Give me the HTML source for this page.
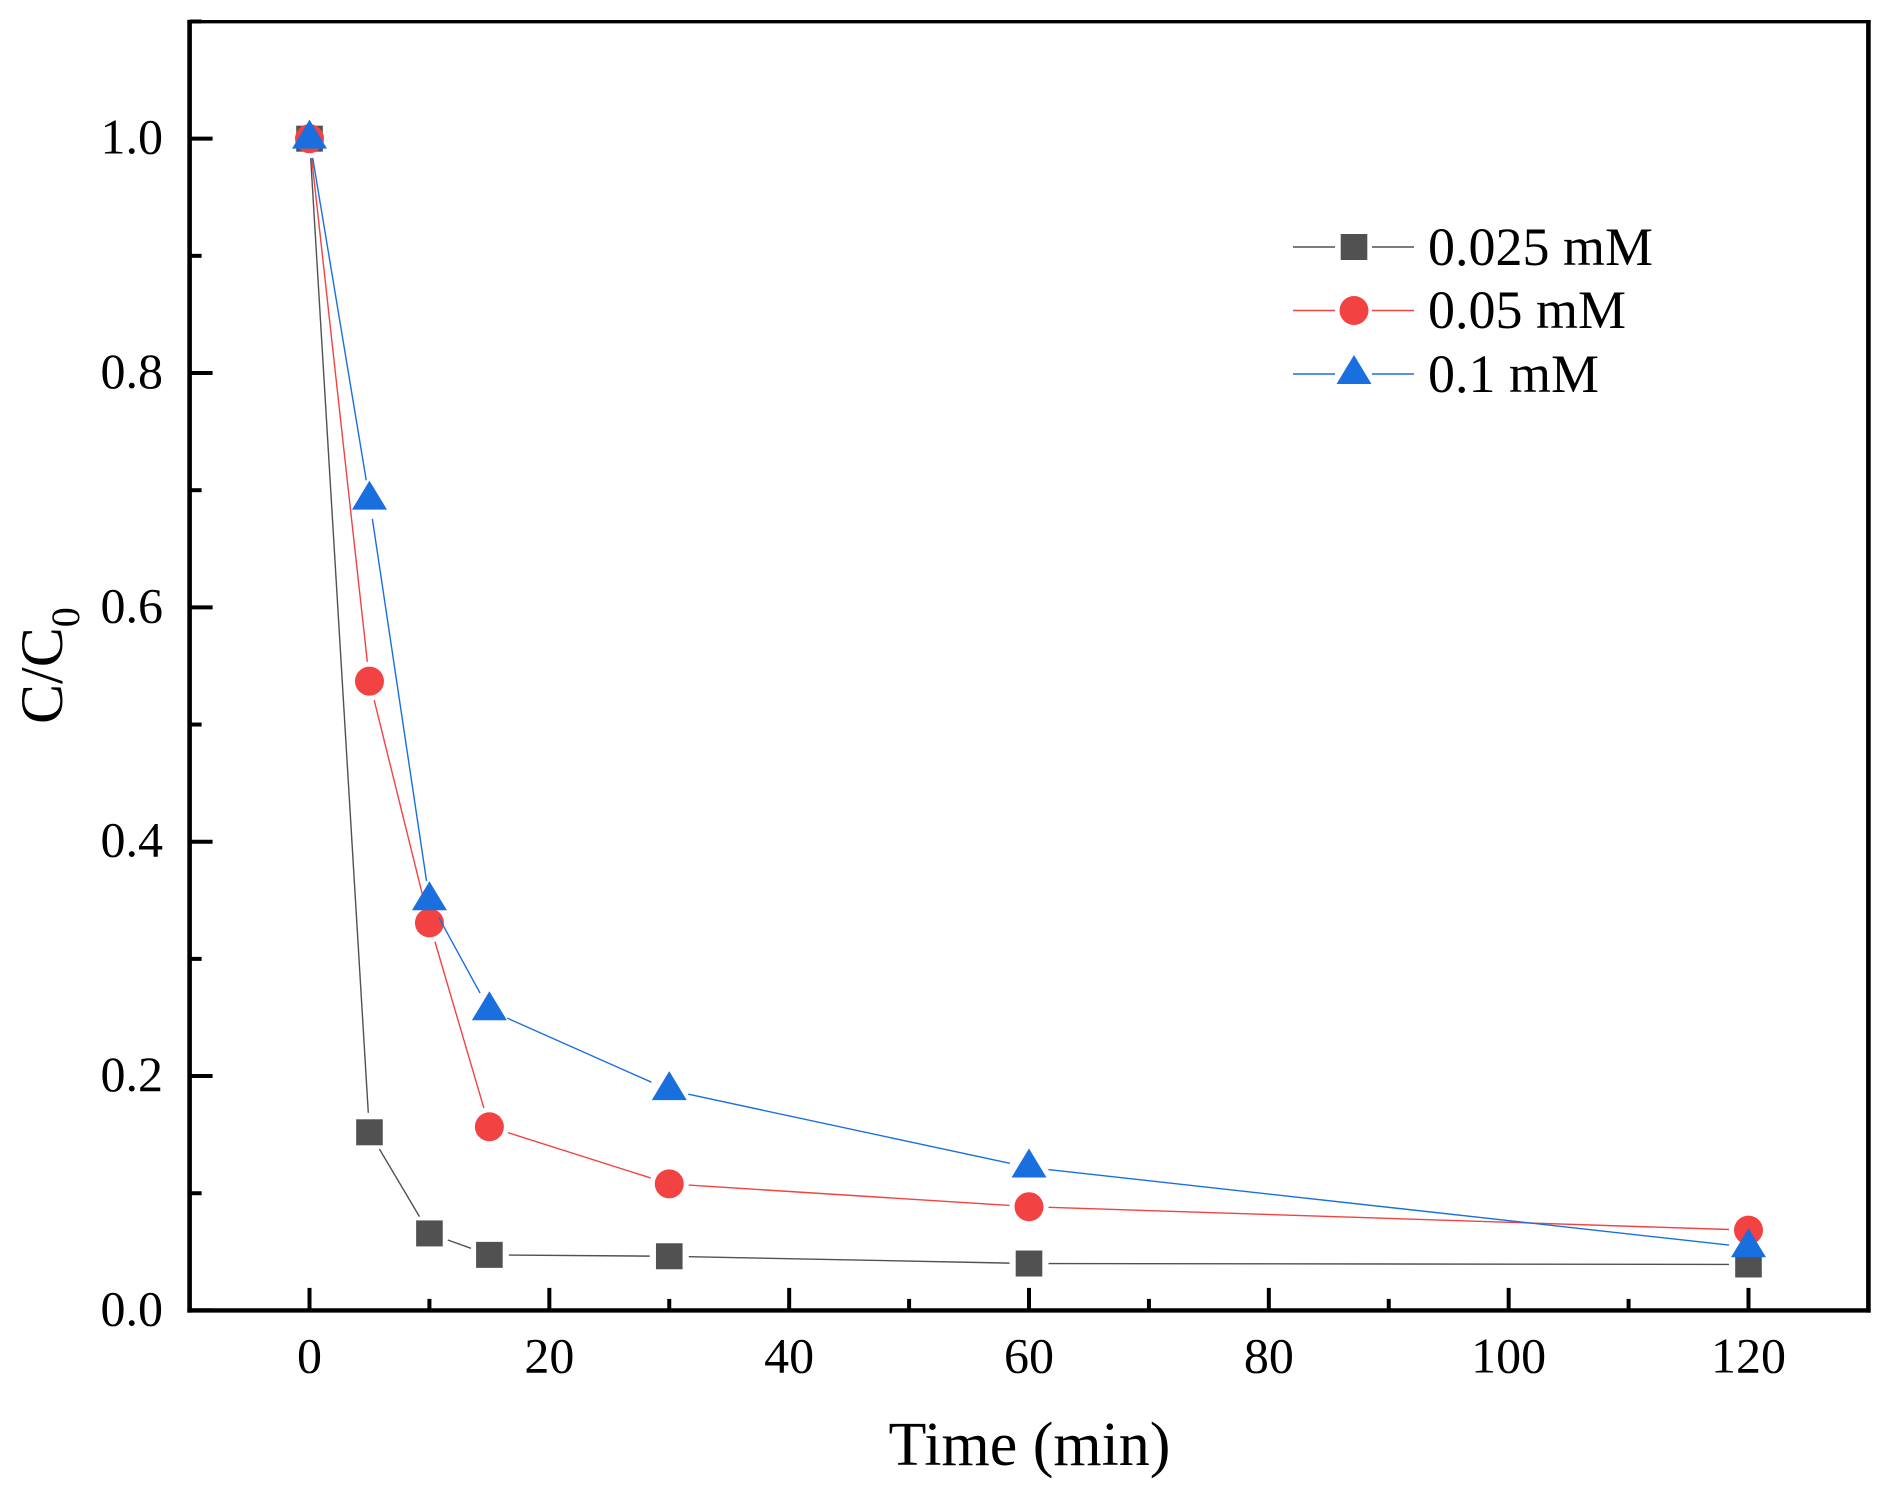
<!DOCTYPE html>
<html lang="en">
<head>
<meta charset="utf-8">
<title>C/C0 vs Time</title>
<style>
html,body{margin:0;padding:0;background:#fff;width:1892px;height:1494px;overflow:hidden}
svg{display:block}
text{font-family:"Liberation Serif","Times New Roman",serif;fill:#000}
</style>
</head>
<body>
<svg id="chart" xmlns="http://www.w3.org/2000/svg" width="1892" height="1494" viewBox="0 0 1892 1494">
  <rect x="0" y="0" width="1892" height="1494" fill="#fff"/>
  <g id="axes"></g>
  <g id="series"></g>
  <g id="legend"></g>
  <text x="1029.5" y="1465" font-size="62" text-anchor="middle">Time (min)</text>
  <text transform="translate(62,724) rotate(-90)" font-size="60">C/C<tspan font-size="40" dy="17">0</tspan></text>
</svg>
<script>
var times = [0, 5, 10, 15, 30, 60, 120];
var valuesLow = [1.0, 0.152, 0.0657, 0.0474, 0.0462, 0.040, 0.0392];
var valuesMid = [1.0, 0.537, 0.3307, 0.1567, 0.108, 0.0885, 0.0685];
var valuesHigh = [1.0, 0.692, 0.35, 0.2562, 0.188, 0.122, 0.0539];
var seriesNames = ['0.025 mM', '0.05 mM', '0.1 mM'];
var xMajorTicks = [0, 20, 40, 60, 80, 100, 120];
var xMinorTicks = [10, 30, 50, 70, 90, 110];
var yMajorTicks = [0, 0.2, 0.4, 0.6, 0.8, 1.0];
var yMinorTicks = [0.1, 0.3, 0.5, 0.7, 0.9, 1.1];
var yTickLabels = ['0.0', '0.2', '0.4', '0.6', '0.8', '1.0'];

var NS = 'http://www.w3.org/2000/svg';
var xMin = -10, xMax = 130, yMin = 0, yMax = 1.1;
var plotLeft = 189.6, plotRight = 1868.4, plotBottom = 1310.4, plotTop = 21.5;
function xScale(v) { return plotLeft + (v - xMin) / (xMax - xMin) * (plotRight - plotLeft); }
function yScale(v) { return plotBottom - (v - yMin) / (yMax - yMin) * (plotBottom - plotTop); }

function make(tag, attrs, parent) {
  var el = document.createElementNS(NS, tag);
  for (var k in attrs) { el.setAttribute(k, attrs[k]); }
  parent.appendChild(el);
  return el;
}

var axes = document.getElementById('axes');

// frame
var axisLeft = make('line', {x1: plotLeft, x2: plotLeft, y1: plotTop - 1.6, y2: plotBottom + 2.2, stroke: '#000', 'stroke-width': 4.6}, axes);


var axisBottom = make('line', {x1: plotLeft - 2.2, x2: plotRight + 2.2, y1: plotBottom, y2: plotBottom, stroke: '#000', 'stroke-width': 4.4}, axes);


var axisTop = make('line', {x1: plotLeft - 2.2, x2: plotRight + 2.2, y1: plotTop + 0.2, y2: plotTop + 0.2, stroke: '#000', 'stroke-width': 3.4}, axes);


var axisRight = make('line', {x1: plotRight, x2: plotRight, y1: plotTop - 1.5, y2: plotBottom + 2.2, stroke: '#000', 'stroke-width': 4.6}, axes);



// x ticks
xMajorTicks.forEach(function (v) {
  var t = make('line', {x1: xScale(v), x2: xScale(v), y1: plotBottom, y2: plotBottom - 22.5, stroke: '#000', 'stroke-width': 4}, axes);
  
  
  var l = make('text', {x: xScale(v), y: 1372.5, 'font-size': 50, 'text-anchor': 'middle'}, axes);
  
  
  l.textContent = String(v);
});
xMinorTicks.forEach(function (v) {
  var t = make('line', {x1: xScale(v), x2: xScale(v), y1: plotBottom, y2: plotBottom - 11.5, stroke: '#000', 'stroke-width': 4}, axes);
  
  
});

// y ticks
yMajorTicks.forEach(function (v, i) {
  var t = make('line', {x1: plotLeft, x2: plotLeft + 23, y1: yScale(v), y2: yScale(v), stroke: '#000', 'stroke-width': 4}, axes);
  
  
  var l = make('text', {x: 163, y: yScale(v) + 15, 'font-size': 50, 'text-anchor': 'end'}, axes);
  
  
  l.textContent = yTickLabels[i];
});
yMinorTicks.forEach(function (v) {
  var t = make('line', {x1: plotLeft, x2: plotLeft + 12, y1: yScale(v), y2: yScale(v), stroke: '#000', 'stroke-width': 4}, axes);
  
  
});

function drawMarker(kind, cx, cy, color, parent) {
  var m;
  if (kind === 'square') {
    m = make('rect', {x: cx - 13.3, y: cy - 13, width: 26.6, height: 26, fill: color}, parent);
  } else if (kind === 'circle') {
    m = make('circle', {cx: cx, cy: cy, r: 14.5, fill: color}, parent);
  } else {
    m = make('polygon', {points: (cx) + ',' + (cy - 19) + ' ' + (cx + 17.5) + ',' + (cy + 10) + ' ' + (cx - 17.5) + ',' + (cy + 10), fill: color}, parent);
  }
  return m;
}

var gap = 19.5;
function drawSeries(name, values, color, kind) {
  var g = make('g', {}, document.getElementById('series'));
  
  
  for (var i = 0; i < values.length - 1; i++) {
    var x1 = xScale(times[i]), y1 = yScale(values[i]);
    var x2 = xScale(times[i + 1]), y2 = yScale(values[i + 1]);
    var dx = x2 - x1, dy = y2 - y1, len = Math.sqrt(dx * dx + dy * dy);
    if (len <= 2 * gap) { continue; }
    var ux = dx / len, uy = dy / len;
    var seg = make('line', {x1: x1 + ux * gap, y1: y1 + uy * gap, x2: x2 - ux * gap, y2: y2 - uy * gap, stroke: color, 'stroke-width': 1.4}, g);
    
    
  }
  values.forEach(function (v, i) {
    var mk = drawMarker(kind, xScale(times[i]), yScale(v), color, g);
    
    
  });
}
drawSeries('low', valuesLow, '#515151', 'square');
drawSeries('mid', valuesMid, '#F24242', 'circle');
drawSeries('high', valuesHigh, '#1A6FDF', 'triangle');

// legend
var legendGroup = document.getElementById('legend');
function legendEntry(label, color, kind, rowY, baseline) {
  var g = make('g', {}, legendGroup);
  
  
  var a = make('line', {x1: 1293, x2: 1335, y1: rowY, y2: rowY, stroke: color, 'stroke-width': 1.4}, g);
  
  
  var b = make('line', {x1: 1372, x2: 1414, y1: rowY, y2: rowY, stroke: color, 'stroke-width': 1.4}, g);
  
  
  var mk = drawMarker(kind, 1354, rowY, color, g);
  
  
  var t = make('text', {x: 1428, y: baseline, 'font-size': 54}, g);
  
  
  t.textContent = label;
}
legendEntry(seriesNames[0], '#515151', 'square', 247, 265);
legendEntry(seriesNames[1], '#F24242', 'circle', 310.5, 328);
legendEntry(seriesNames[2], '#1A6FDF', 'triangle', 374, 392);
</script>
</body>
</html>
